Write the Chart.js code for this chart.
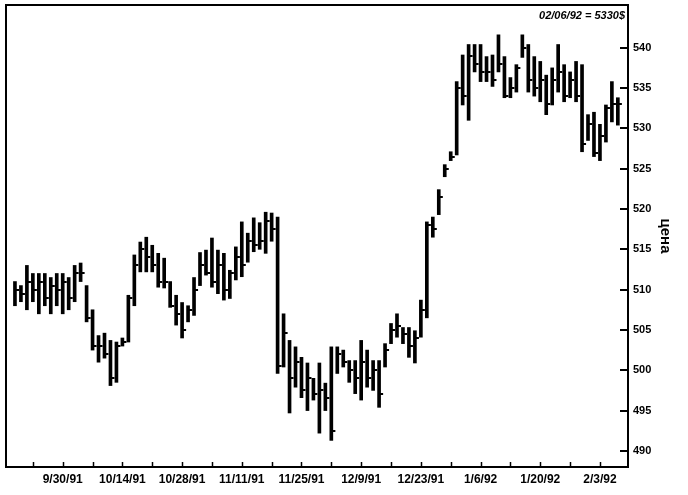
<!DOCTYPE html>
<html>
<head>
<meta charset="utf-8">
<script src="https://cdn.jsdelivr.net/npm/chart.js@4.4.1/dist/chart.umd.min.js"></script>
<style>
  html, body { margin: 0; padding: 0; background: #fff; }
</style>
</head>
<body>
<canvas id="chart" width="688" height="495"></canvas>
<script>
// дневные бары: максимум, минимум, закрытие (9/18/91 - 2/6/92)
const highs = [
  511, 510.5, 513, 512, 512, 512, 511.5, 512, 512, 511.5,
  513, 513.3, 510.5, 507.5, 504.3, 504.6, 503.7, 503.5, 504, 509.3,
  514.3, 515.9, 516.5, 515.5, 514.5, 513.9, 511, 509.3, 508.4, 508,
  511.5, 514.6, 514.9, 516.4, 514.9, 514.5, 512.4, 515.3, 518.4, 517,
  518.9, 518.3, 519.6, 519.5, 519, 507, 503.7, 502.9, 501.6, 500.9,
  499, 500.9, 498.4, 502.9, 502.9, 502.5, 501.2, 501.2, 503.7, 502.5,
  501.2, 501.2, 503.3, 505.8, 507, 505.3, 505.3, 504.9, 508.7, 518.4,
  519, 522.4, 525.5, 527.1, 535.8, 539.1, 540.4, 540.4, 540.4, 538.9,
  539.1, 541.6, 538.9, 536.3, 537.9, 541.6, 540.4, 538.9, 538.3, 536.6,
  537.5, 540.4, 537.9, 537, 538.3, 537.9, 531.7, 532, 530.5, 532.9,
  535.8, 533.8
];
const lows = [
  508, 508.5, 507.5, 508.5, 507, 508, 507, 508, 507, 507.5,
  508.5, 511, 506, 502.5, 501, 501.5, 498.1, 498.5, 503, 503.5,
  508, 512.2, 512.2, 512.2, 510.3, 510.2, 507.8, 505.6, 504, 506,
  506.8, 510.5, 511.8, 510.3, 509.5, 508.7, 508.9, 511.2, 511.6, 513.4,
  514.7, 515, 514.5, 516, 499.6, 500.4, 494.7, 497.9, 496.6, 495,
  496.3, 492.2, 495, 491.3, 499.6, 500.4, 498.5, 497.1, 496.3, 497.9,
  497.5, 495.4, 500.4, 503.3, 504.1, 503.3, 501.6, 500.9, 504.1, 506.5,
  516.5, 519.3, 524, 526, 526.7, 532.9, 531, 537, 535.8, 535.8,
  535.2, 537, 533.8, 533.8, 534.5, 538.8, 534.5, 534, 533.3, 531.7,
  532.9, 534.5, 533.3, 533.8, 533.3, 527.1, 528.5, 526.5, 526, 528.3,
  530.8, 530.4
];
const closes = [
  510, 509.5, 511, 510, 511, 509, 510.5, 510, 511, 509,
  512, 512, 506.5, 503, 503, 502, 499, 503, 503.5, 509,
  513, 515, 514, 513, 511, 511, 508, 507, 505, 507.5,
  510, 513, 512, 511, 513, 510, 512, 514, 513, 516,
  515.5, 516, 518.5, 517.5, 500.5, 504.6, 499, 501, 497.5, 499,
  497, 497.5, 496.5, 492.5, 502, 501, 500, 499, 501, 499,
  500, 497, 502.5, 505, 505.5, 504.5, 503, 504, 507.5, 518,
  517.5, 521.5, 525, 526.5, 535, 534, 539, 538, 537, 537,
  536, 538, 534, 535, 537.5, 540, 536, 535, 536, 533,
  536, 537, 534, 536, 534, 528, 530.5, 527, 529, 532.5,
  533, 533
];
const tickLabels = ['9/30/91', '10/14/91', '10/28/91', '11/11/91', '11/25/91',
  '12/9/91', '12/23/91', '1/6/92', '1/20/92', '2/3/92'];
const yTicks = [490, 495, 500, 505, 510, 515, 520, 525, 530, 535, 540];
const stampText = '02/06/92 = 5330$';

// торговые дни (будни) с 9/18/91
const categories = [];
const mondays = [];
const d = new Date(1991, 8, 18);
while (categories.length < highs.length) {
  const wd = d.getDay();
  if (wd !== 0 && wd !== 6) {
    if (wd === 1) mondays.push(categories.length);
    categories.push((d.getMonth() + 1) + '/' + d.getDate() + '/' + String(d.getFullYear()).slice(2));
  }
  d.setDate(d.getDate() + 1);
}

// засечка закрытия справа от бара
const closeMark = document.createElement('canvas');
closeMark.width = 10;
closeMark.height = 2;
const cm = closeMark.getContext('2d');
cm.fillStyle = '#000';
cm.fillRect(5, 0, 4, 2);

const FONT = "'Liberation Sans', Arial, sans-serif";

const framePlugin = {
  id: 'frame',
  afterDraw(chart) {
    const { ctx, chartArea: a } = chart;
    const xs = chart.scales.x, ys = chart.scales.y;
    ctx.save();
    ctx.strokeStyle = '#000';
    ctx.lineWidth = 2;
    ctx.beginPath();
    ctx.moveTo(a.left, a.bottom);
    ctx.lineTo(a.left, a.top);
    ctx.lineTo(a.right, a.top);
    ctx.stroke();
    // внутренние засечки
    ctx.lineWidth = 1.5;
    mondays.forEach(i => {
      const px = Math.round(xs.getPixelForValue(i)) + 0.5;
      ctx.beginPath();
      ctx.moveTo(px, a.bottom);
      ctx.lineTo(px, a.bottom - 5);
      ctx.stroke();
    });
    ctx.lineWidth = 2;
    yTicks.forEach(v => {
      const py = Math.round(ys.getPixelForValue(v));
      ctx.beginPath();
      ctx.moveTo(a.right - 8, py);
      ctx.lineTo(a.right + 1, py);
      ctx.stroke();
    });
    ctx.fillStyle = '#000';
    ctx.font = "italic bold 11px " + FONT;
    ctx.textAlign = 'right';
    ctx.textBaseline = 'middle';
    ctx.fillText(stampText, a.right - 3, a.top + 11);
    ctx.restore();
  }
};

new Chart(document.getElementById('chart'), {
  data: {
    datasets: [{
      type: 'bar',
      data: highs.map((h, i) => ({ x: i, y: [lows[i], h] })),
      backgroundColor: '#000',
      borderWidth: 0,
      barThickness: 3,
      grouped: false
    }, {
      type: 'line',
      data: closes.map((c, i) => ({ x: i, y: c })),
      showLine: false,
      pointStyle: closeMark,
      pointRadius: 4,
      borderColor: '#000',
      backgroundColor: '#000'
    }]
  },
  options: {
    responsive: false,
    animation: false,
    layout: { padding: { left: 6, top: 5, right: 0, bottom: 0 } },
    plugins: { legend: { display: false }, tooltip: { enabled: false } },
    scales: {
      x: {
        type: 'linear',
        min: -1.5,
        max: 102.7,
        offset: false,
        grid: { display: false, drawTicks: false, offset: false },
        border: { display: true, color: '#000', width: 2 },
        afterBuildTicks: s => { s.ticks = mondays.map(v => ({ value: v })); },
        afterFit: s => { s.height = 28; s.paddingLeft = 0; s.paddingRight = 0; },
        ticks: {
          autoSkip: false,
          maxRotation: 0,
          minRotation: 0,
          padding: 5,
          color: '#000',
          font: { family: FONT, size: 12, weight: 'bold' },
          callback: v => tickLabels.includes(categories[v]) ? categories[v] : ''
        }
      },
      y: {
        position: 'right',
        min: 488,
        max: 545.3,
        grid: { display: false, drawTicks: false },
        border: { display: true, color: '#000', width: 2 },
        afterBuildTicks: s => { s.ticks = yTicks.map(v => ({ value: v })); },
        afterFit: s => { s.width = 60; s.paddingTop = 0; s.paddingBottom = 0; },
        ticks: {
          padding: 5,
          color: '#000',
          font: { family: FONT, size: 11, weight: 'bold' }
        },
        title: {
          display: true,
          text: 'цена',
          color: '#000',
          padding: { top: 14, bottom: 0 },
          font: { family: FONT, size: 15, weight: 'bold' }
        }
      }
    }
  },
  plugins: [framePlugin]
});
</script>
</body>
</html>
